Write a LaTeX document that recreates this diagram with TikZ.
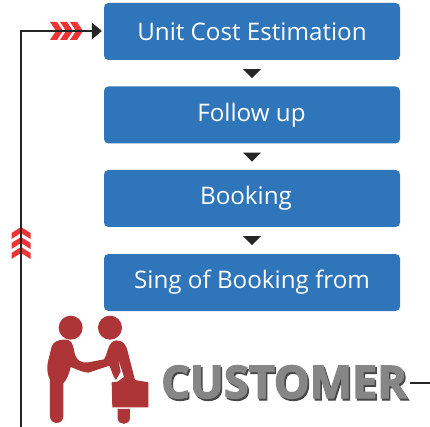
\documentclass[tikz,border=0pt]{standalone}
\usepackage{fontspec}
\setmainfont{Open Sans}
\newfontfamily\custfont[FakeBold=3]{Open Sans Bold}
\usetikzlibrary{calc,arrows.meta}
\definecolor{boxblue}{HTML}{2E75B9}
\definecolor{chev}{HTML}{EE3334}
\definecolor{linedark}{HTML}{262626}
\definecolor{manred}{HTML}{AE3537}
\tikzset{
  flowbox/.style={draw=none,fill=boxblue,rounded corners=4.5pt,minimum width=296pt,minimum height=57pt,inner sep=0pt,text=white,font=\fontsize{24.2}{28}\selectfont},
  trunk/.style={draw=linedark,line width=2.7pt},
  chevh/.pic={\fill[chev] (-5,-9) -- (2,-9) -- (8,0) -- (2,9) -- (-5,9) -- (1,0) -- cycle;},
  chevv/.pic={\fill[chev] (-9.5,6) -- (-9.5,0) -- (0,-6) -- (9.5,0) -- (9.5,6) -- (0,0) -- cycle;},
  downtri/.style={fill=linedark}
}
\begin{document}
\begin{tikzpicture}[x=1pt,y=-1pt]
\useasboundingbox (0,0) rectangle (430,427);
\fill[white] (0,0) rectangle (430,427);
\node[flowbox] (b1) at (252,31.5) {Unit Cost Estimation};
\node[flowbox] (b2) at (252,115) {\hspace*{-1pt}Follow up};
\node[flowbox] (b3) at (252,198.5) {\hspace*{-12pt}Booking};
\node[flowbox] (b4) at (252,282.5) {Sing of Booking from};
\foreach \a in {b1,b2,b3}
  \fill[downtri] ($(\a.south)+(-9,9)$) -- ($(\a.south)+(9,9)$) -- ($(\a.south)+(0,18)$) -- cycle;
\coordinate (start) at (21,427);
\coordinate (corner) at (21,31);
\foreach \x in {55,65,75} \pic at (\x,31) {chevh};
\foreach \y in {233,243,253} \pic at (21,\y) {chevv};
\draw[trunk,line cap=butt,line join=miter] (start) -- (corner) -- ($(b1.west)+(-12,-0.5)$);
\fill[linedark] ($(b1.west)+(-12,-9)$) -- ($(b1.west)+(-2,-0.5)$) -- ($(b1.west)+(-12,8)$) -- cycle;
\begin{scope}[shift={(30,305)},x=0.3333pt,y=-0.3333pt]
\fill[manred] (122,68) circle (36);
\fill[manred] (240,68) circle (36);
\fill[manred] (100,104) .. controls (125,102) and (128,115) .. (133,140)
  .. controls (138,165) and (150,175) .. (175,172)
  -- (222,163) .. controls (232,150) and (232,125) .. (245,112)
  .. controls (265,98) and (285,110) .. (292,135)
  -- (315,225) -- (355,232) -- (355,307) -- (247,307) -- (245,232) -- (262,230)
  -- (282,216) -- (264,160) -- (272,200) -- (258,225)
  .. controls (248,215) and (245,195) .. (238,182)
  -- (175,203) .. controls (155,202) and (135,190) .. (122,186)
  .. controls (118,205) and (110,225) .. (100,235)
  -- (100,335) .. controls (98,360) and (62,360) .. (60,335)
  -- (60,225) .. controls (50,205) and (50,185) .. (55,165)
  -- (65,125) .. controls (70,110) and (85,105) .. (100,104) -- cycle;
\fill[manred] (263,312) -- (300,312) -- (300,340) .. controls (298,362) and (265,362) .. (263,340) -- cycle;
\end{scope}
\node[anchor=base west,inner sep=0pt,text=linedark!85,font=\custfont\fontsize{45}{47}\selectfont] (shadow) at (162.5,400) {CUSTOMER};
\node[anchor=base west,inner sep=0pt,text=gray!95,font=\custfont\fontsize{45}{47}\selectfont] (cust) at (161,398) {CUSTOMER};
\coordinate (tail) at (430,383);
\draw[linedark,line width=1.2pt] (410,383) -- (tail);
\end{tikzpicture}
\end{document}
